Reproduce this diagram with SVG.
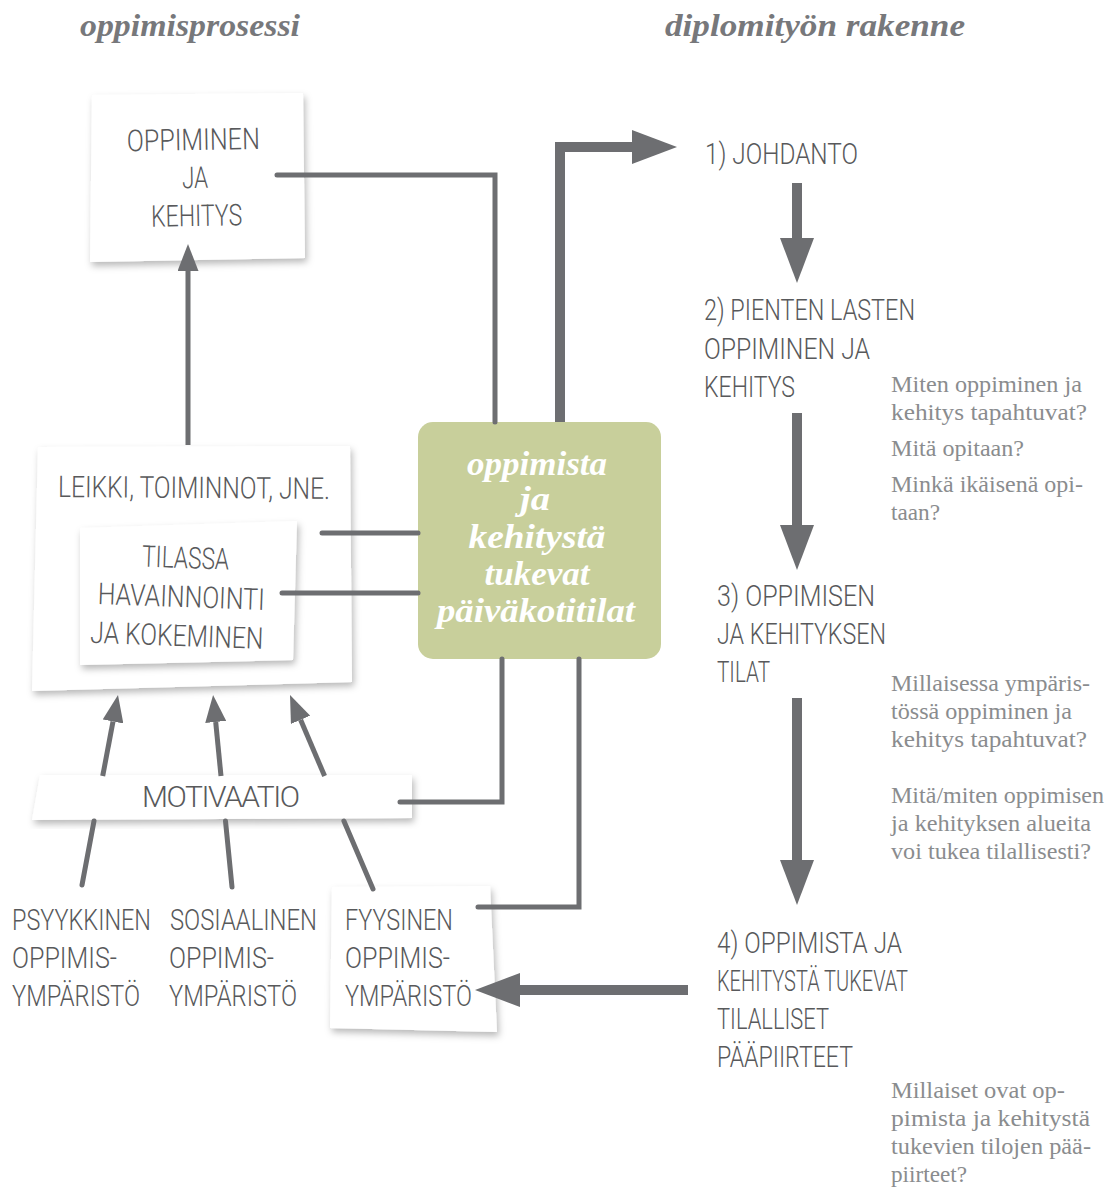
<svg xmlns="http://www.w3.org/2000/svg" width="1110" height="1193" viewBox="0 0 1110 1193">
<style>
.c{font-family:Roboto,"Liberation Sans Narrow","DejaVu Sans Condensed",sans-serif;font-weight:300;font-size:30px;fill:#58595b}
.s{font-family:"Liberation Serif","DejaVu Serif",serif;font-weight:bold;font-style:italic;fill:#77787b}
.g{font-family:"Liberation Serif","DejaVu Serif",serif;font-weight:bold;font-style:italic;font-size:33px;fill:#ffffff}
.n{font-family:"Liberation Serif","Times New Roman",serif;font-size:23px;fill:#8a8c8e}
.box{fill:#ffffff;filter:url(#sh)}
.ln{fill:none;stroke:#6d6e71;stroke-width:5;stroke-linecap:round;stroke-linejoin:miter}
.ar{fill:none;stroke:#6d6e71;stroke-width:5;stroke-linecap:butt}
.big{fill:none;stroke:#6d6e71;stroke-width:10;stroke-linecap:butt;stroke-linejoin:miter}
</style>
<defs>
<filter id="sh" x="-10%" y="-10%" width="125%" height="130%">
<feDropShadow dx="2" dy="4" stdDeviation="3.5" flood-color="#000" flood-opacity="0.28"/>
</filter>
<marker id="ah" markerUnits="userSpaceOnUse" markerWidth="27" markerHeight="21" refX="0" refY="10.5" orient="auto" viewBox="0 0 27 21">
<path d="M0,0 L27,10.5 L0,21 z" fill="#6d6e71"/>
</marker>
<marker id="bh" markerUnits="userSpaceOnUse" markerWidth="45" markerHeight="34" refX="0" refY="17" orient="auto" viewBox="0 0 45 34">
<path d="M0,0 L45,17 L0,34 z" fill="#6d6e71"/>
</marker>
</defs>
<rect width="1110" height="1193" fill="#ffffff"/>

<g id="titles">
<text class="s" x="190" y="36" font-size="32" text-anchor="middle" textLength="220" lengthAdjust="spacingAndGlyphs">oppimisprosessi</text>
<text class="s" x="815" y="36" font-size="32" text-anchor="middle" textLength="300" lengthAdjust="spacingAndGlyphs">diplomityön rakenne</text>
</g>

<g id="n-oppiminen">
<polygon class="box" points="92,95 303,93 305,258 90,262"/>
<g transform="rotate(-1 195 180)">
<text class="c" x="194" y="150" text-anchor="middle" textLength="133" lengthAdjust="spacingAndGlyphs">OPPIMINEN</text>
<text class="c" x="195" y="188" text-anchor="middle" textLength="26" lengthAdjust="spacingAndGlyphs">JA</text>
<text class="c" x="196" y="226" text-anchor="middle" textLength="91" lengthAdjust="spacingAndGlyphs">KEHITYS</text>
</g>
</g>

<g id="n-leikki">
<polygon class="box" points="38,447 350,446 352,682 32,691"/>
<text class="c" x="58" y="498" textLength="272" lengthAdjust="spacingAndGlyphs" transform="rotate(0.4 194 490)">LEIKKI, TOIMINNOT, JNE.</text>
</g>

<g id="n-tilassa">
<polygon class="box" points="80,528 297,521 293,660 80,665"/>
<g transform="rotate(2 182 605)">
<text class="c" x="184" y="568" text-anchor="middle" textLength="87" lengthAdjust="spacingAndGlyphs">TILASSA</text>
<text class="c" x="181" y="607" text-anchor="middle" textLength="167" lengthAdjust="spacingAndGlyphs">HAVAINNOINTI</text>
<text class="c" x="178" y="646" text-anchor="middle" textLength="173" lengthAdjust="spacingAndGlyphs">JA KOKEMINEN</text>
</g>
</g>

<g id="n-motivaatio">
<polygon class="box" points="40,775 412,775 412,818 32,820"/>
<text class="c" x="142" y="807" textLength="158" lengthAdjust="spacing" font-size="27">MOTIVAATIO</text>
</g>

<g id="n-psyykkinen">
<text class="c" x="12" y="930" textLength="139" lengthAdjust="spacingAndGlyphs">PSYYKKINEN</text>
<text class="c" x="12" y="968" textLength="105" lengthAdjust="spacingAndGlyphs">OPPIMIS-</text>
<text class="c" x="12" y="1006" textLength="128" lengthAdjust="spacingAndGlyphs">YMPÄRISTÖ</text>
</g>

<g id="n-sosiaalinen">
<text class="c" x="170" y="930" textLength="147" lengthAdjust="spacingAndGlyphs">SOSIAALINEN</text>
<text class="c" x="169" y="968" textLength="105" lengthAdjust="spacingAndGlyphs">OPPIMIS-</text>
<text class="c" x="169" y="1006" textLength="128" lengthAdjust="spacingAndGlyphs">YMPÄRISTÖ</text>
</g>

<g id="n-fyysinen">
<polygon class="box" points="332,887 490,886 497,1032 330,1028"/>
<text class="c" x="345" y="930" textLength="108" lengthAdjust="spacingAndGlyphs">FYYSINEN</text>
<text class="c" x="345" y="968" textLength="105" lengthAdjust="spacingAndGlyphs">OPPIMIS-</text>
<text class="c" x="345" y="1006" textLength="127" lengthAdjust="spacingAndGlyphs">YMPÄRISTÖ</text>
</g>

<g id="n-green">
<rect x="418" y="422" width="243" height="237" rx="15" fill="#c8cf9b"/>
<text class="g" x="537" y="475" text-anchor="middle" textLength="140" lengthAdjust="spacingAndGlyphs">oppimista</text>
<text class="g" x="535" y="510" text-anchor="middle" textLength="30" lengthAdjust="spacingAndGlyphs">ja</text>
<text class="g" x="537" y="548" text-anchor="middle" textLength="137" lengthAdjust="spacingAndGlyphs">kehitystä</text>
<text class="g" x="537" y="585" text-anchor="middle" textLength="105" lengthAdjust="spacingAndGlyphs">tukevat</text>
<text class="g" x="536" y="622" text-anchor="middle" textLength="198" lengthAdjust="spacingAndGlyphs">päiväkotitilat</text>
</g>

<g id="n-johdanto">
<text class="c" x="705" y="164" textLength="153" lengthAdjust="spacingAndGlyphs">1) JOHDANTO</text>
</g>
<g id="n-pienten">
<text class="c" x="704" y="320" textLength="211" lengthAdjust="spacingAndGlyphs">2) PIENTEN LASTEN</text>
<text class="c" x="704" y="359" textLength="166" lengthAdjust="spacingAndGlyphs">OPPIMINEN JA</text>
<text class="c" x="704" y="397" textLength="91" lengthAdjust="spacingAndGlyphs">KEHITYS</text>
</g>
<g id="n-tilat">
<text class="c" x="717" y="606" textLength="158" lengthAdjust="spacingAndGlyphs">3) OPPIMISEN</text>
<text class="c" x="717" y="644" textLength="169" lengthAdjust="spacingAndGlyphs">JA KEHITYKSEN</text>
<text class="c" x="717" y="682" textLength="53" lengthAdjust="spacingAndGlyphs">TILAT</text>
</g>
<g id="n-paapiirteet">
<text class="c" x="717" y="953" textLength="185" lengthAdjust="spacingAndGlyphs">4) OPPIMISTA JA</text>
<text class="c" x="717" y="991" textLength="191" lengthAdjust="spacingAndGlyphs">KEHITYSTÄ TUKEVAT</text>
<text class="c" x="717" y="1029" textLength="112" lengthAdjust="spacingAndGlyphs">TILALLISET</text>
<text class="c" x="717" y="1067" textLength="136" lengthAdjust="spacingAndGlyphs">PÄÄPIIRTEET</text>
</g>

<g id="notes">
<text class="n" x="891" y="392" textLength="191" lengthAdjust="spacingAndGlyphs">Miten oppiminen ja</text>
<text class="n" x="891" y="420" textLength="196" lengthAdjust="spacingAndGlyphs">kehitys tapahtuvat?</text>
<text class="n" x="891" y="456" textLength="133" lengthAdjust="spacingAndGlyphs">Mitä opitaan?</text>
<text class="n" x="891" y="492" textLength="192" lengthAdjust="spacingAndGlyphs">Minkä ikäisenä opi-</text>
<text class="n" x="891" y="520" textLength="49" lengthAdjust="spacingAndGlyphs">taan?</text>
<text class="n" x="891" y="691" textLength="199" lengthAdjust="spacingAndGlyphs">Millaisessa ympäris-</text>
<text class="n" x="891" y="719" textLength="181" lengthAdjust="spacingAndGlyphs">tössä oppiminen ja</text>
<text class="n" x="891" y="747" textLength="196" lengthAdjust="spacingAndGlyphs">kehitys tapahtuvat?</text>
<text class="n" x="891" y="803" textLength="213" lengthAdjust="spacingAndGlyphs">Mitä/miten oppimisen</text>
<text class="n" x="891" y="831" textLength="200" lengthAdjust="spacingAndGlyphs">ja kehityksen alueita</text>
<text class="n" x="891" y="859" textLength="200" lengthAdjust="spacingAndGlyphs">voi tukea tilallisesti?</text>
<text class="n" x="891" y="1098" textLength="174" lengthAdjust="spacingAndGlyphs">Millaiset ovat op-</text>
<text class="n" x="891" y="1126" textLength="199" lengthAdjust="spacingAndGlyphs">pimista ja kehitystä</text>
<text class="n" x="891" y="1154" textLength="200" lengthAdjust="spacingAndGlyphs">tukevien tilojen pää-</text>
<text class="n" x="891" y="1182" textLength="76" lengthAdjust="spacingAndGlyphs">piirteet?</text>
</g>

<g id="connectors">
<polyline class="ln" points="277,175 495,175 495,422"/>
<line class="ar" x1="188" y1="445" x2="188" y2="271" marker-end="url(#ah)"/>
<line class="ln" x1="322" y1="533" x2="418" y2="533"/>
<line class="ln" x1="282" y1="593" x2="418" y2="593"/>
<polyline class="ln" points="400,802 502,802 502,659"/>
<polyline class="ln" points="478,907 579,907 579,659"/>
<line class="ln" x1="82" y1="885" x2="94" y2="821"/>
<line class="ar" x1="102.7" y1="776" x2="113" y2="721.5" marker-end="url(#ah)"/>
<line class="ln" x1="232" y1="887" x2="225.5" y2="821"/>
<line class="ar" x1="221" y1="776" x2="215.7" y2="721.9" marker-end="url(#ah)"/>
<line class="ln" x1="373" y1="889" x2="343.9" y2="821"/>
<line class="ar" x1="324.6" y1="776" x2="300.6" y2="719.8" marker-end="url(#ah)"/>
<polyline class="big" points="560,422 560,147 632,147" marker-end="url(#bh)"/>
<line class="big" x1="797" y1="183" x2="797" y2="238" marker-end="url(#bh)"/>
<line class="big" x1="797" y1="413" x2="797" y2="525" marker-end="url(#bh)"/>
<line class="big" x1="797" y1="698" x2="797" y2="860" marker-end="url(#bh)"/>
<line class="big" x1="688" y1="990" x2="520" y2="990" marker-end="url(#bh)"/>
</g>
</svg>
